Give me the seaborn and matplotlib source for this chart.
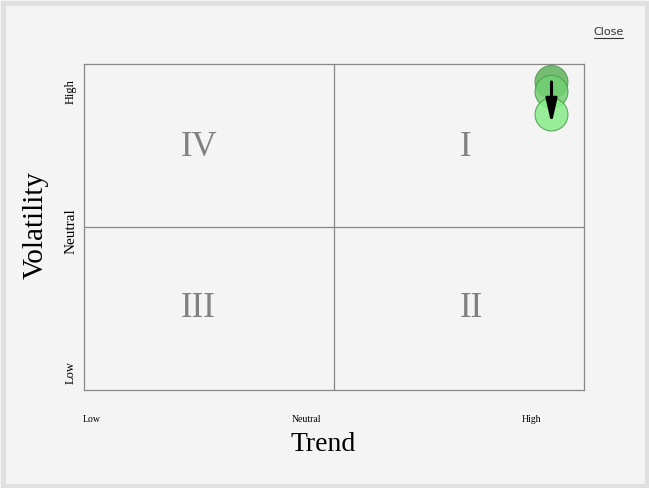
import matplotlib
matplotlib.use("Agg")
import matplotlib.pyplot as plt
import pandas as pd
import seaborn as sns
from matplotlib.patches import Rectangle

# trail of positions, oldest first
trend = [0.87, 0.87, 0.87]
volatility = [0.89, 0.83, 0.69]
step = ["t-2", "t-1", "t"]
point_colors = ["#5fb45f", "#72d072", "#88ee88"]

quadrants = ["IV", "I", "III", "II"]
quad_x = [-0.54, 0.527, -0.545, 0.55]
quad_y = [0.485, 0.485, -0.50, -0.50]

x_tick_pos = [-0.97, -0.11, 0.79]
x_tick_labels = ["Low", "Neutral", "High"]
y_tick_pos = [-0.89, -0.025, 0.83]
y_tick_labels = ["Low", "Neutral", "High"]
y_tick_sizes = [9, 11, 9]

sns.set_style("white")
plt.rcParams["font.family"] = ["Liberation Serif", "DejaVu Serif"]
plt.rcParams["text.color"] = "black"
plt.rcParams["axes.labelcolor"] = "black"
plt.rcParams["xtick.color"] = "black"
plt.rcParams["ytick.color"] = "black"

fig = plt.figure(figsize=(6.49, 4.88), dpi=100, facecolor="#f4f4f4")
# light grey frame round the panel
fig.add_artist(Rectangle((2.5 / 649, 2.5 / 488), 644 / 649, 483 / 488,
                         transform=fig.transFigure, facecolor="none",
                         edgecolor="#e0e0e0", lw=3.6))
ax = fig.add_axes([84 / 649, 98 / 488, 500 / 649, 326 / 488])
ax.set_facecolor("none")

df = pd.DataFrame({"trend": trend, "volatility": volatility, "step": step})
sns.scatterplot(data=df, x="trend", y="volatility", hue="step", palette=point_colors,
                s=560, edgecolor="#4c9a4c", linewidth=0.8, alpha=0.85, legend=False,
                ax=ax, zorder=3)
ax.annotate("", xy=(trend[-1], volatility[-1] - 0.06), xytext=(trend[0], volatility[0]),
            arrowprops=dict(arrowstyle="-|>,head_length=1.45,head_width=0.33",
                            color="black", lw=2.2, shrinkA=0, shrinkB=0),
            zorder=4)

ax.axvline(0, color="#888888", lw=0.9, zorder=1)
ax.axhline(0, color="#888888", lw=0.9, zorder=1)
for name, qx, qy in zip(quadrants, quad_x, quad_y):
    ax.text(qx, qy, name, ha="center", va="center", fontsize=25, color="#808080")

ax.set_xlim(-1, 1)
ax.set_ylim(-1, 1)
for sp in ax.spines.values():
    sp.set_color("#888888")
    sp.set_linewidth(0.9)

ax.set_xticks(x_tick_pos)
ax.set_xticklabels(x_tick_labels, fontsize=7)
ax.set_yticks(y_tick_pos)
ax.set_yticklabels(y_tick_labels, rotation=90, va="center")
for lab, size in zip(ax.get_yticklabels(), y_tick_sizes):
    lab.set_fontsize(size)
ax.tick_params(axis="x", length=0, pad=18)
ax.tick_params(axis="y", length=0, pad=5)
ax.set_xlabel("Trend", fontsize=20, va="center")
ax.xaxis.set_label_coords(0.478, -0.166)
ax.set_ylabel("Volatility", fontsize=21, va="center")
ax.yaxis.set_label_coords(-0.096, 0.505)

fig.text(608 / 649, 1 - 32 / 488, "Close", ha="center", va="center", fontsize=8,
         color="#333333", family="DejaVu Sans")
fig.add_artist(plt.Line2D([594 / 649, 623 / 649], [1 - 38 / 488, 1 - 38 / 488],
                          transform=fig.transFigure, color="#333333", lw=0.8))

fig.savefig("out.png", dpi=100, facecolor=fig.get_facecolor())
